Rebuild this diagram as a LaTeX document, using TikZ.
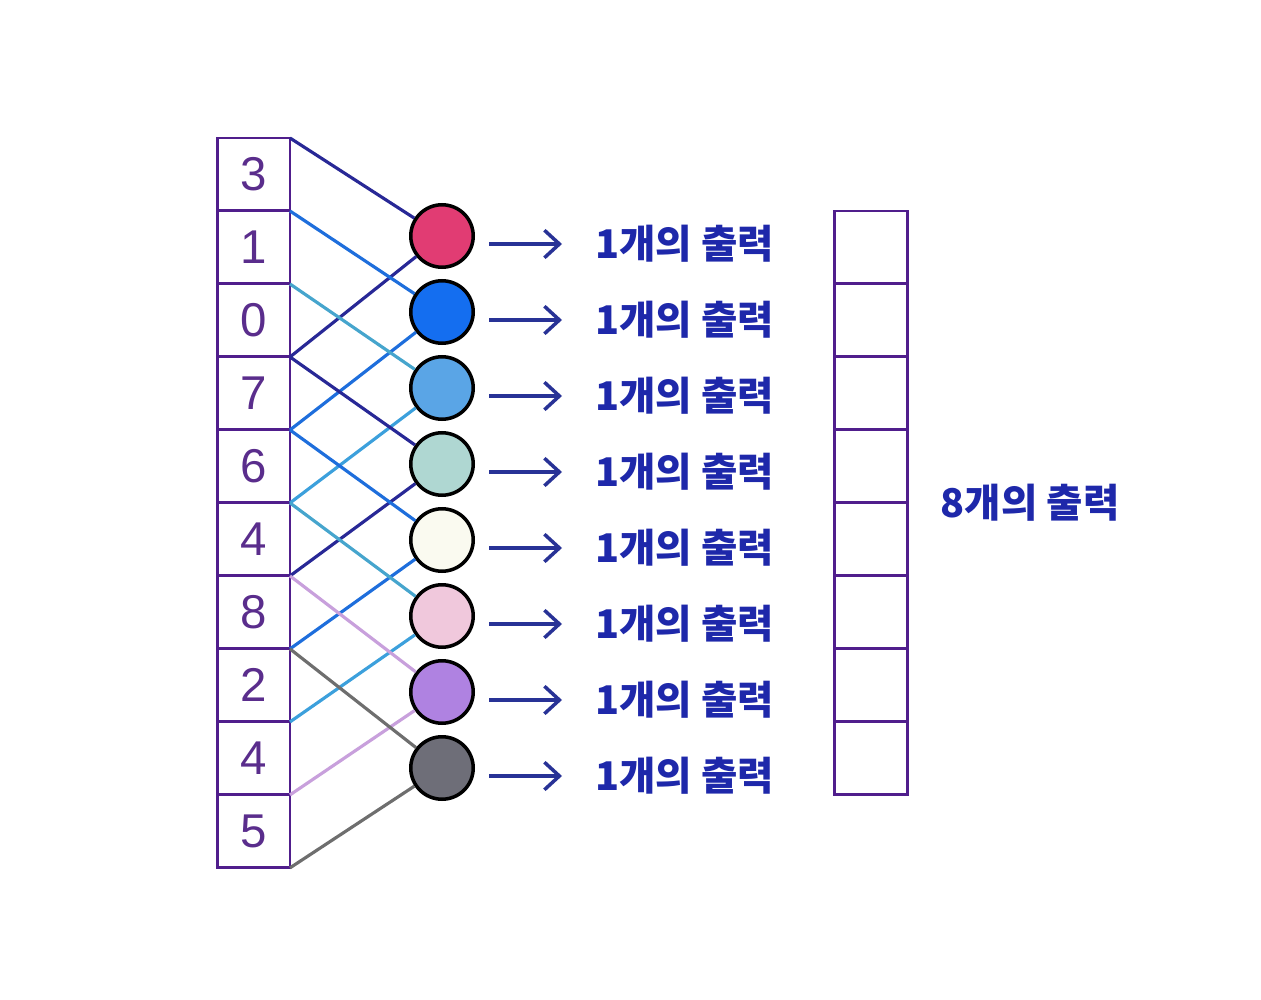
\documentclass[tikz,border=0pt]{standalone}
\usepackage{fontspec}
\setmainfont{Liberation Sans}
\newfontfamily\krfont{Noto Sans CJK KR}
\usepackage{xcolor}
\definecolor{boxpurple}{RGB}{80,30,140}
\definecolor{digitpurple}{RGB}{90,45,140}
\definecolor{linknavy}{RGB}{40,40,150}
\definecolor{linkblue}{RGB}{30,110,220}
\definecolor{linklight}{RGB}{60,160,220}
\definecolor{linkteal}{RGB}{70,165,205}
\definecolor{linklilac}{RGB}{200,160,220}
\definecolor{linkgray}{RGB}{110,110,110}
\definecolor{fillred}{RGB}{225,60,115}
\definecolor{fillblue}{RGB}{20,110,240}
\definecolor{filllight}{RGB}{90,165,230}
\definecolor{fillteal}{RGB}{175,215,210}
\definecolor{fillwhite}{RGB}{250,250,240}
\definecolor{fillpink}{RGB}{240,200,220}
\definecolor{fillpurple}{RGB}{175,130,225}
\definecolor{fillgray}{RGB}{110,110,120}
\definecolor{txtblue}{RGB}{30,40,170}
\definecolor{arrownavy}{RGB}{40,50,150}
\usepackage{tikz}
\usetikzlibrary{arrows.meta, positioning}

\begin{document}
\begin{tikzpicture}[x=0.02cm, y=-0.02cm,
  cell/.style={draw=boxpurple, line width=1.7pt, minimum size=1.46cm, inner sep=0pt,
               outer sep=0pt, text=digitpurple, font=\fontsize{27}{30}\selectfont},
  unit/.style={circle, draw=black, line width=2pt, minimum size=1.25cm, inner sep=0pt},
  link/.style={line width=1.8pt},
  outarrow/.style={-{Straight Barb[length=3mm, width=5.5mm]}, arrownavy, line width=2pt,
                   shorten <=0.28cm, shorten >=0.66cm},
  outtxt/.style={text=txtblue, inner sep=0pt, font=\krfont\bfseries\fontsize{22.5}{26}\selectfont}]

\useasboundingbox (0,0) rectangle (1261,1000);

% Input array
\node[cell] (in0) at (253.5,174.5) {3};
\node[cell, below=0pt of in0] (in1) {1};
\node[cell, below=0pt of in1] (in2) {0};
\node[cell, below=0pt of in2] (in3) {7};
\node[cell, below=0pt of in3] (in4) {6};
\node[cell, below=0pt of in4] (in5) {4};
\node[cell, below=0pt of in5] (in6) {8};
\node[cell, below=0pt of in6] (in7) {2};
\node[cell, below=0pt of in7] (in8) {4};
\node[cell, below=0pt of in8] (in9) {5};

% Units
\node[unit, fill=fillred]    (c1) at (442,236) {};
\node[unit, fill=fillblue]   (c2) at (442,312) {};
\node[unit, fill=filllight]  (c3) at (442,388) {};
\node[unit, fill=fillteal]   (c4) at (442,464) {};
\node[unit, fill=fillwhite]  (c5) at (442,540) {};
\node[unit, fill=fillpink]   (c6) at (442,616) {};
\node[unit, fill=fillpurple] (c7) at (442,692) {};
\node[unit, fill=fillgray]   (c8) at (442,768) {};

% Links from the array to the units
\draw[link, linknavy]  (in0.north east) -- (c1);
\draw[link, linknavy]  (in3.north east) -- (c1);
\draw[link, linkblue]  (in1.north east) -- (c2);
\draw[link, linkblue]  (in4.north east) -- (c2);
\draw[link, linkteal]  (in2.north east) -- (c3);
\draw[link, linklight] (in5.north east) -- (c3);
\draw[link, linknavy]  (in3.north east) -- (c4);
\draw[link, linknavy]  (in6.north east) -- (c4);
\draw[link, linkblue]  (in4.north east) -- (c5);
\draw[link, linkblue]  (in7.north east) -- (c5);
\draw[link, linkteal]  (in5.north east) -- (c6);
\draw[link, linklight] (in8.north east) -- (c6);
\draw[link, linklilac] (in6.north east) -- (c7);
\draw[link, linklilac] (in9.north east) -- (c7);
\draw[link, linkgray]  (in7.north east) -- (c8);
\draw[link, linkgray]  (in9.south east) -- (c8);

% One output per unit
\foreach \i/\y in {1/244, 2/320, 3/396, 4/472, 5/548, 6/624, 7/700, 8/776} {
  \node[outtxt, anchor=west] (t\i) at (595,\y) {1개의 출력};
  \draw[outarrow] (c\i.east |- t\i.west) -- (t\i.west);
}

% Output array
\node[cell] (out1) at (871,247.5) {};
\node[cell, below=0pt of out1] (out2) {};
\node[cell, below=0pt of out2] (out3) {};
\node[cell, below=0pt of out3] (out4) {};
\node[cell, below=0pt of out4] (out5) {};
\node[cell, below=0pt of out5] (out6) {};
\node[cell, below=0pt of out6] (out7) {};
\node[cell, below=0pt of out7] (out8) {};

\node[outtxt, right=0.66cm of out4.south east] (total) {8개의 출력};

\end{tikzpicture}
\end{document}
